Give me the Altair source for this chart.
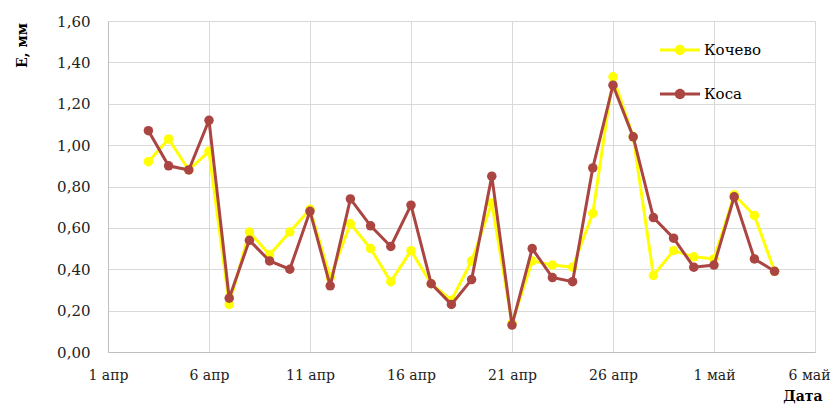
import altair as alt
import pandas as pd

dates = pd.date_range("2019-04-03", "2019-05-04", freq="D").strftime("%Y-%m-%d").tolist()

kochevo = [0.92, 1.03, 0.88, 0.97, 0.23, 0.58, 0.47, 0.58, 0.69, 0.36,
           0.62, 0.50, 0.34, 0.49, 0.33, 0.25, 0.44, 0.72, 0.14, 0.44,
           0.42, 0.41, 0.67, 1.33, 1.04, 0.37, 0.49, 0.46, 0.45, 0.76,
           0.66, 0.39]
kosa = [1.07, 0.90, 0.88, 1.12, 0.26, 0.54, 0.44, 0.40, 0.68, 0.32,
        0.74, 0.61, 0.51, 0.71, 0.33, 0.23, 0.35, 0.85, 0.13, 0.50,
        0.36, 0.34, 0.89, 1.29, 1.04, 0.65, 0.55, 0.41, 0.42, 0.75,
        0.45, 0.39]

series_names = ["Кочево", "Коса"]
series_colors = ["#FFFF00", "#AA4542"]
tick_days = [1, 6, 11, 16, 21, 26]
tick_days_may = [1, 6]

rows = []
for i, d in enumerate(dates):
    rows.append({"date": d, "series": "Кочево", "E": kochevo[i]})
    rows.append({"date": d, "series": "Коса", "E": kosa[i]})
df = pd.DataFrame(rows)

tick_values = [alt.DateTime(year=2019, month=4, date=d, utc=True) for d in tick_days] + \
              [alt.DateTime(year=2019, month=5, date=d, utc=True) for d in tick_days_may]

FONT = "DejaVu Serif"

x = alt.X("date:T",
          scale=alt.Scale(type="utc",
                          domain=[alt.DateTime(year=2019, month=4, date=1, utc=True),
                                  alt.DateTime(year=2019, month=5, date=6, utc=True)]),
          axis=alt.Axis(values=tick_values,
                        labelExpr="utcdate(datum.value) + ' ' + (utcmonth(datum.value) == 3 ? 'апр' : 'май')",
                        labelOffset={"condition": {"test": "utcmonth(datum.value) == 4 && utcdate(datum.value) == 6",
                                                   "value": -6},
                                     "value": 0},
                        title="Дата", titleAnchor="end", titleAlign="right",
                        titleX=714, titleY=44, titleBaseline="middle",
                        ticks=False, labelPadding=16, labelFontSize=14,
                        labelFont=FONT, titleFont=FONT, titleFontSize=14,
                        titleFontWeight="bold", labelColor="#222", titleColor="#000",
                        gridColor="#D9D9D9", domainColor="#BFBFBF", labelFlush=False))
y = alt.Y("E:Q",
          scale=alt.Scale(domain=[0, 1.6], nice=False),
          axis=alt.Axis(values=[0, 0.2, 0.4, 0.6, 0.8, 1.0, 1.2, 1.4, 1.6],
                        labelExpr="replace(format(datum.value, '.2f'), '.', ',')",
                        title="E, мм", titleAngle=-90, titleX=-86, titleY=24,
                        titleAlign="center", titleBaseline="middle",
                        ticks=False, labelPadding=18, labelFontSize=15,
                        labelFont=FONT, titleFont=FONT, titleFontSize=14,
                        titleFontWeight="bold", labelColor="#222", titleColor="#000",
                        gridColor="#D9D9D9", domainColor="#BFBFBF"))

legend_path = ("M-1,-0.07H1V0.07H-1Z "
               "M0.26,0A0.26,0.26 0 1,1 -0.26,0A0.26,0.26 0 1,1 0.26,0Z")
legend = alt.Legend(title=None, orient="none", legendX=552, legendY=9,
                    symbolType=legend_path, symbolSize=1600,
                    symbolStrokeWidth=0, symbolOpacity=1,
                    labelFont=FONT, labelFontSize=15, labelColor="#000",
                    rowPadding=16, labelOffset=4)

color = alt.Color("series:N", scale=alt.Scale(domain=series_names, range=series_colors),
                  legend=legend)

lines = alt.Chart(df).mark_line(strokeWidth=3).encode(
    x=x, y=y, color=color, order=alt.Order("date:T"),
)
points = alt.Chart(df).mark_point(filled=True, size=90, opacity=1).encode(
    x=x, y=y, color=color,
)

layers = []
for name in series_names:
    layers.append(lines.transform_filter(alt.datum.series == name))
    layers.append(points.transform_filter(alt.datum.series == name))

chart = alt.layer(*layers).properties(
    width=707, height=331,
    autosize=alt.AutoSizeParams(type="none"),
    padding={"left": 100, "top": 13, "right": 17, "bottom": 54},
).configure_view(stroke=None).configure(background="white", font=FONT)

chart.save("out.html", embed_options={"renderer": "svg", "actions": False})
